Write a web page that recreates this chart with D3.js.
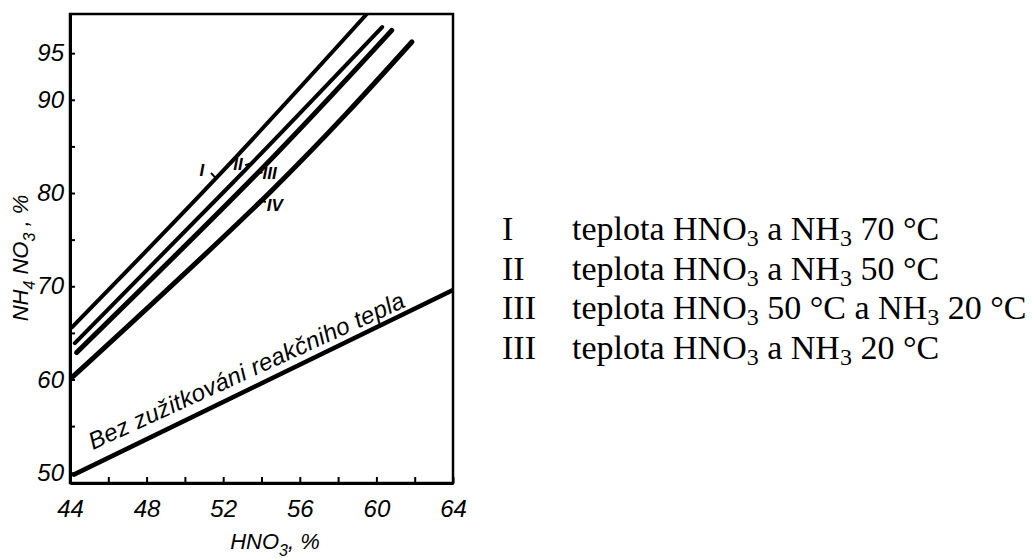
<!DOCTYPE html>
<html>
<head>
<meta charset="utf-8">
<script src="https://cdn.jsdelivr.net/npm/d3@7"></script>
<style>
  html, body { margin: 0; padding: 0; background: #fff; }
  svg { display: block; }
</style>
</head>
<body>
<script>
// chart data
const xTicks = [44, 46, 48, 50, 52, 54, 56, 58, 60, 62, 64];
const xTickLabels = ["44", "", "48", "", "52", "", "56", "", "60", "", "64"];
const yTicks = [50, 55, 60, 65, 70, 75, 80, 85, 90, 95];
const yTickLabels = ["50", "", "60", "", "70", "", "80", "", "90", "95"];

const curveNames = ["I", "II", "III", "IV"];
const curveX = [
  [44.1, 52.0, 59.5],
  [44.25, 52.5, 60.3],
  [44.35, 53.8, 60.8],
  [44.15, 54.5, 61.85]
];
const curveY = [
  [65.6, 82.4, 99.2],
  [63.9, 81.1, 97.8],
  [62.9, 82.15, 97.45],
  [60.3, 80.2, 96.2]
];
const baseX = [44.2, 64];
const baseY = [49.8, 69.6];
const baseLabel = "Bez zužitkováni reakčniho tepla";

// curve label anchors (data units) and short leader strokes
const labelX = [50.89, 52.77, 54.42, 54.7];
const labelY = [82.46, 83.1, 82.14, 78.71];
const leaderFromX = [51.36, 53.14, 53.78, 53.87];
const leaderFromY = [82.14, 82.99, 82.03, 79.25];
const leaderToX = [51.62, 53.5, 54.05, 54.23];
const leaderToY = [81.6, 83.2, 82.25, 79.03];

// legend on the right
const legendNums = ["I", "II", "III", "III"];
const legendParts = [
  [["teplota HNO", 0], ["3", 1], [" a NH", 0], ["3", 1], [" 70 °C", 0]],
  [["teplota HNO", 0], ["3", 1], [" a NH", 0], ["3", 1], [" 50 °C", 0]],
  [["teplota HNO", 0], ["3", 1], [" 50 °C a NH", 0], ["3", 1], [" 20 °C", 0]],
  [["teplota HNO", 0], ["3", 1], [" a NH", 0], ["3", 1], [" 20 °C", 0]]
];

const SVG_DIM = { W: 1033, H: 558 };
const PLOT = { LEFT: 70, TOP: 14, RIGHT: 453, BOTTOM: 483 };
const HAND = "'Liberation Sans', Arial, sans-serif";
const SERIF = "'Liberation Serif', 'Times New Roman', serif";

const svg = d3.select("body").append("svg")
  .attr("width", SVG_DIM.W)
  .attr("height", SVG_DIM.H);

const x = d3.scaleLinear().domain([44, 64]).range([PLOT.LEFT, PLOT.RIGHT]);
const y = d3.scaleLinear().domain([48.9, 99.2]).range([PLOT.BOTTOM, PLOT.TOP]);

svg.append("clipPath").attr("id", "plot-clip")
  .append("rect")
  .attr("x", PLOT.LEFT).attr("y", PLOT.TOP)
  .attr("width", PLOT.RIGHT - PLOT.LEFT)
  .attr("height", PLOT.BOTTOM - PLOT.TOP);

// frame
svg.append("rect")
  .attr("x", PLOT.LEFT).attr("y", PLOT.TOP)
  .attr("width", PLOT.RIGHT - PLOT.LEFT)
  .attr("height", PLOT.BOTTOM - PLOT.TOP)
  .attr("fill", "none")
  .attr("stroke", "#000")
  .attr("stroke-width", 2.5);

// x axis, ticks pointing inwards
const xAxis = svg.append("g")
  .attr("transform", `translate(0,${PLOT.BOTTOM})`)
  .call(d3.axisBottom(x)
    .tickValues(xTicks)
    .tickFormat((d, i) => xTickLabels[i])
    .tickSize(-6)
    .tickSizeOuter(0));
xAxis.select(".domain").attr("stroke-width", 3);
xAxis.selectAll(".tick line").attr("stroke-width", 2);
xAxis.selectAll(".tick text")
  .attr("y", 34).attr("dy", null)
  .attr("font-family", HAND)
  .attr("font-style", "italic")
  .attr("font-size", 24)
  .attr("fill", "#000");

// y axis
const yAxis = svg.append("g")
  .attr("transform", `translate(${PLOT.LEFT},0)`)
  .call(d3.axisLeft(y)
    .tickValues(yTicks)
    .tickFormat((d, i) => yTickLabels[i])
    .tickSize(-5)
    .tickSizeOuter(0));
yAxis.select(".domain").attr("stroke-width", 3);
yAxis.selectAll(".tick line").attr("stroke-width", 2);
yAxis.selectAll(".tick text")
  .attr("x", -6)
  .attr("font-family", HAND)
  .attr("font-style", "italic")
  .attr("font-size", 24)
  .attr("fill", "#000");

// axis titles
const xTitle = svg.append("text")
  .attr("x", 275).attr("y", 549)
  .attr("text-anchor", "middle")
  .attr("font-family", HAND)
  .attr("font-style", "italic")
  .attr("font-size", 22);
xTitle.append("tspan").text("HNO");
xTitle.append("tspan").attr("dy", 7).attr("font-size", 16).text("3");
xTitle.append("tspan").attr("dy", -7).text(", %");

const yTitle = svg.append("text")
  .attr("transform", "translate(28,258) rotate(-90)")
  .attr("text-anchor", "middle")
  .attr("font-family", HAND)
  .attr("font-style", "italic")
  .attr("font-size", 22);
yTitle.append("tspan").text("NH");
yTitle.append("tspan").attr("dy", 7).attr("font-size", 16).text("4");
yTitle.append("tspan").attr("dy", -7).text(" NO");
yTitle.append("tspan").attr("dy", 7).attr("font-size", 16).text("3");
yTitle.append("tspan").attr("dy", -7).text(" , %");

// curves (slightly bowed, so a smooth spline through the read points)
const line = d3.line().x(d => x(d[0])).y(d => y(d[1])).curve(d3.curveNatural);
const curves = svg.append("g").attr("clip-path", "url(#plot-clip)");
const widths = [4, 4, 5, 5];

curveNames.forEach((name, i) => {
  curves.append("path")
    .datum(curveX[i].map((v, j) => [v, curveY[i][j]]))
    .attr("d", line)
    .attr("fill", "none")
    .attr("stroke", "#000")
    .attr("stroke-width", widths[i])
    .attr("stroke-linecap", "round");
});

curves.append("path")
  .datum(baseX.map((v, j) => [v, baseY[j]]))
  .attr("d", line)
  .attr("fill", "none")
  .attr("stroke", "#000")
  .attr("stroke-width", 4.5)
  .attr("stroke-linecap", "round");

// curve labels with leaders
curveNames.forEach((name, i) => {
  svg.append("line")
    .attr("x1", x(leaderFromX[i])).attr("y1", y(leaderFromY[i]))
    .attr("x2", x(leaderToX[i])).attr("y2", y(leaderToY[i]))
    .attr("stroke", "#000")
    .attr("stroke-width", 2);
  svg.append("text")
    .attr("x", x(labelX[i])).attr("y", y(labelY[i]))
    .attr("dy", "0.35em")
    .attr("text-anchor", "middle")
    .attr("font-family", HAND)
    .attr("font-style", "italic")
    .attr("font-weight", "bold")
    .attr("font-size", 17)
    .text(name);
});

// text written along the bottom line
const angle = Math.atan2(y(68.0) - y(52.45), x(61.75) - x(45.2)) * 180 / Math.PI;
svg.append("text")
  .attr("transform", `translate(${x(45.2)},${y(52.45)}) rotate(${angle})`)
  .attr("font-family", HAND)
  .attr("font-style", "italic")
  .attr("font-size", 24)
  .attr("textLength", 345)
  .attr("lengthAdjust", "spacing")
  .text(baseLabel);

// legend
const legend = svg.append("g")
  .attr("font-family", SERIF)
  .attr("font-size", 34)
  .attr("fill", "#000");

legendNums.forEach((num, i) => {
  const base = 240 + i * 39.5;
  legend.append("text").attr("x", 502).attr("y", base).text(num);
  const t = legend.append("text").attr("x", 572).attr("y", base);
  let shifted = false;
  legendParts[i].forEach(([s, sub]) => {
    const span = t.append("tspan").text(s);
    if (sub) {
      span.attr("font-size", 24).attr("dy", 6);
      shifted = true;
    } else if (shifted) {
      span.attr("dy", -6);
      shifted = false;
    }
  });
});
</script>
</body>
</html>
